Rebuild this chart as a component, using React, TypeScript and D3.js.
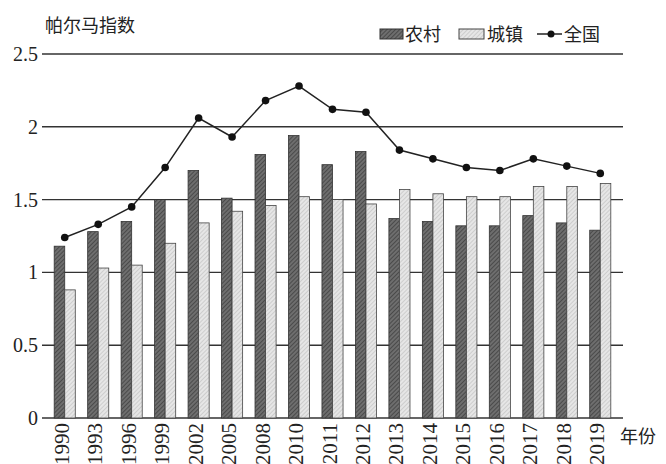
import { useEffect, useRef } from "react";
import * as d3 from "d3";

const years = ["1990", "1993", "1996", "1999", "2002", "2005", "2008", "2010", "2011", "2012", "2013", "2014", "2015", "2016", "2017", "2018", "2019"];
const rural = [1.18, 1.28, 1.35, 1.5, 1.7, 1.51, 1.81, 1.94, 1.74, 1.83, 1.37, 1.35, 1.32, 1.32, 1.39, 1.34, 1.29];
const urban = [0.88, 1.03, 1.05, 1.2, 1.34, 1.42, 1.46, 1.52, 1.5, 1.47, 1.57, 1.54, 1.52, 1.52, 1.59, 1.59, 1.61];
const national = [1.24, 1.33, 1.45, 1.72, 2.06, 1.93, 2.18, 2.28, 2.12, 2.1, 1.84, 1.78, 1.72, 1.7, 1.78, 1.73, 1.68];
const yTicks = [0, 0.5, 1, 1.5, 2, 2.5];

const width = 666;
const height = 464;
const serif = "'Liberation Serif', 'DejaVu Serif', serif";
const cjk = "'Noto Sans CJK SC', sans-serif";

export default function App() {
  const ref = useRef<SVGSVGElement>(null);

  useEffect(() => {
    const svg = d3.select(ref.current);
    svg.selectAll("*").remove();

    const x = d3.scaleBand(years, [48, 617]).paddingInner(0.37).paddingOuter(0.185);
    const y = d3.scaleLinear([0, 2.5], [418, 54]);
    const bw = x.bandwidth() / 2;

    // hatch patterns for the bars
    const defs = svg.append("defs");
    const dark = defs
      .append("pattern")
      .attr("id", "hatchDark")
      .attr("patternUnits", "userSpaceOnUse")
      .attr("width", 3)
      .attr("height", 3)
      .attr("patternTransform", "rotate(45)");
    dark.append("rect").attr("width", 3).attr("height", 3).attr("fill", "#6e6e6e");
    dark.append("line").attr("x1", 0).attr("y1", 0).attr("x2", 0).attr("y2", 3).attr("stroke", "#3a3a3a").attr("stroke-width", 1.4);

    const light = defs
      .append("pattern")
      .attr("id", "hatchLight")
      .attr("patternUnits", "userSpaceOnUse")
      .attr("width", 3)
      .attr("height", 3)
      .attr("patternTransform", "rotate(45)");
    light.append("rect").attr("width", 3).attr("height", 3).attr("fill", "#e6e6e6");
    light.append("line").attr("x1", 0).attr("y1", 0).attr("x2", 0).attr("y2", 3).attr("stroke", "#b5b5b5").attr("stroke-width", 1);

    // gridlines + y labels
    const grid = svg.append("g");
    grid
      .selectAll("line")
      .data(yTicks)
      .join("line")
      .attr("x1", 42)
      .attr("x2", 623)
      .attr("y1", (d) => y(d))
      .attr("y2", (d) => y(d))
      .attr("stroke", "#333")
      .attr("stroke-width", 1.4);
    grid
      .selectAll("text")
      .data(yTicks)
      .join("text")
      .attr("x", 38)
      .attr("y", (d) => y(d) + 7)
      .attr("text-anchor", "end")
      .attr("font-family", serif)
      .attr("font-size", 20)
      .attr("fill", "#222")
      .text((d) => String(d));

    // bars
    svg
      .append("g")
      .selectAll("rect")
      .data(years)
      .join("rect")
      .attr("x", (d) => x(d)!)
      .attr("y", (_, i) => y(rural[i]))
      .attr("width", bw)
      .attr("height", (_, i) => y(0) - y(rural[i]))
      .attr("fill", "url(#hatchDark)")
      .attr("stroke", "#333")
      .attr("stroke-width", 0.8);

    svg
      .append("g")
      .selectAll("rect")
      .data(years)
      .join("rect")
      .attr("x", (d) => x(d)! + bw)
      .attr("y", (_, i) => y(urban[i]))
      .attr("width", bw)
      .attr("height", (_, i) => y(0) - y(urban[i]))
      .attr("fill", "url(#hatchLight)")
      .attr("stroke", "#444")
      .attr("stroke-width", 0.8);

    // national line
    const cx = (d: string) => x(d)! + x.bandwidth() / 2;
    const line = d3
      .line<number>()
      .x((_, i) => cx(years[i]))
      .y((d) => y(d));
    svg
      .append("path")
      .attr("d", line(national))
      .attr("fill", "none")
      .attr("stroke", "#222")
      .attr("stroke-width", 1.5);
    svg
      .append("g")
      .selectAll("circle")
      .data(national)
      .join("circle")
      .attr("cx", (_, i) => cx(years[i]))
      .attr("cy", (d) => y(d))
      .attr("r", 3.8)
      .attr("fill", "#111");

    // x labels (rotated)
    svg
      .append("g")
      .selectAll("text")
      .data(years)
      .join("text")
      .attr("transform", (d) => `translate(${cx(d) + 4},${423}) rotate(-90)`)
      .attr("text-anchor", "end")
      .attr("font-family", serif)
      .attr("font-size", 21)
      .attr("fill", "#222")
      .text((d) => d);

    svg
      .append("text")
      .attr("x", 620)
      .attr("y", 443)
      .attr("font-family", cjk)
      .attr("font-size", 18)
      .attr("fill", "#222")
      .text("年份");

    svg
      .append("text")
      .attr("x", 45)
      .attr("y", 32)
      .attr("font-family", cjk)
      .attr("font-size", 18)
      .attr("fill", "#222")
      .text("帕尔马指数");

    // legend
    const lg = svg.append("g").attr("font-family", cjk).attr("font-size", 18).attr("fill", "#222");
    lg.append("rect").attr("x", 380).attr("y", 29).attr("width", 23).attr("height", 10).attr("fill", "url(#hatchDark)").attr("stroke", "#333");
    lg.append("text").attr("x", 405).attr("y", 41).text("农村");
    lg.append("rect").attr("x", 459).attr("y", 29).attr("width", 25).attr("height", 10).attr("fill", "url(#hatchLight)").attr("stroke", "#444");
    lg.append("text").attr("x", 487).attr("y", 41).text("城镇");
    lg.append("line").attr("x1", 537).attr("x2", 562).attr("y1", 34).attr("y2", 34).attr("stroke", "#222").attr("stroke-width", 1.5);
    lg.append("circle").attr("cx", 551).attr("cy", 34).attr("r", 3.5).attr("fill", "#111");
    lg.append("text").attr("x", 564).attr("y", 41).text("全国");
  }, []);

  return (
    <svg
      ref={ref}
      width={width}
      height={height}
      style={{ position: "absolute", left: 0, top: 0, background: "#fff" }}
    />
  );
}
